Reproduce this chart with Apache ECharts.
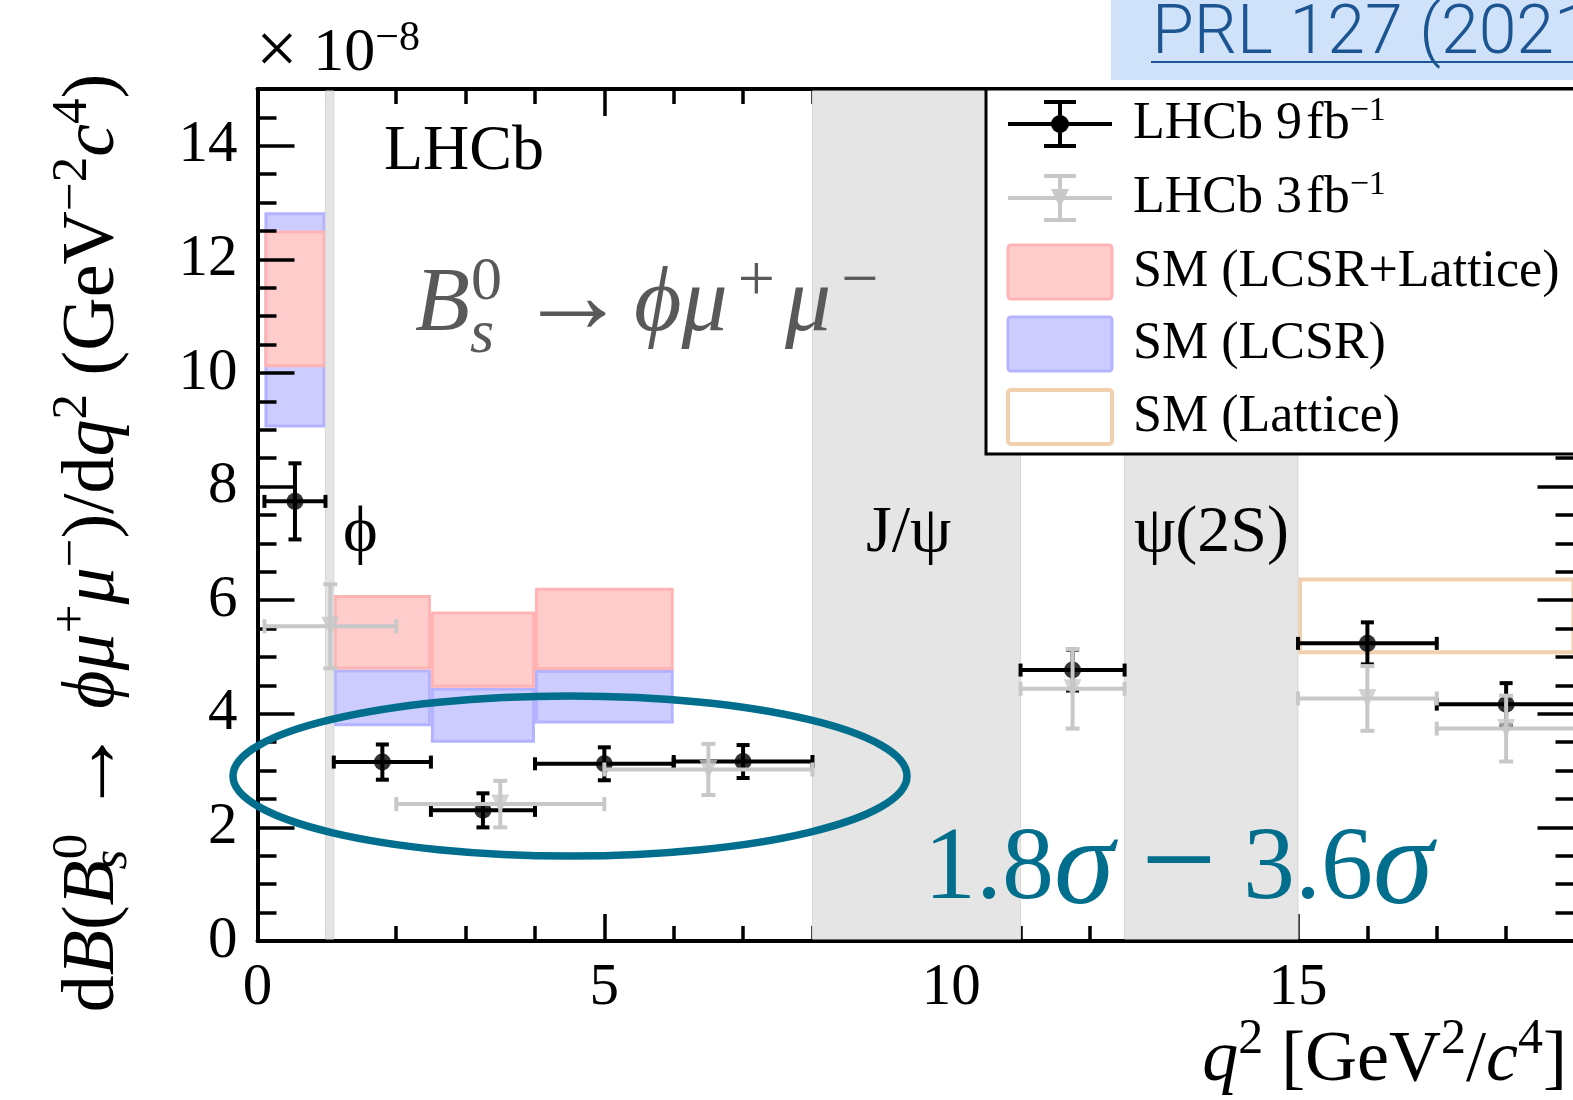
<!DOCTYPE html>
<html>
<head>
<meta charset="utf-8">
<title>Bs0 → φμ+μ− differential branching fraction</title>
<script src="https://cdn.jsdelivr.net/npm/echarts@6.0.0/dist/echarts.min.js"></script>
<style>
  html, body { margin: 0; padding: 0; background: #ffffff; }
  #chart { width: 1573px; height: 1100px; }
</style>
</head>
<body>
<div id="chart"></div>
<script>
// ---- q² bins [GeV²/c⁴] and dB/dq² values [×10⁻⁸ GeV⁻² c⁴] ----
const run2Bins   = [[0.1, 0.98], [1.1, 2.5], [2.5, 4.0], [4.0, 6.0], [6.0, 8.0], [11.0, 12.5], [15.0, 17.0], [17.0, 19.0]];
const run2Values = [7.74, 3.15, 2.30, 3.12, 3.16, 4.77, 5.24, 4.17];
const run2Errors = [0.67, 0.31, 0.30, 0.29, 0.29, 0.36, 0.37, 0.37];

const run1Bins   = [[0.1, 2.0], [2.0, 5.0], [5.0, 8.0], [11.0, 12.5], [15.0, 17.0], [17.0, 19.0]];
const run1Values = [5.54, 2.41, 3.02, 4.44, 4.27, 3.74];
const run1Errors = [0.74, 0.41, 0.45, 0.70, 0.57, 0.58];

// Standard Model predictions (bands: low / high edge)
const lcsrBins = [[0.1, 0.98], [1.1, 2.5], [2.5, 4.0], [4.0, 6.0]];
const lcsrLow  = [9.04, 3.78, 3.49, 3.83];
const lcsrHigh = [12.83, 4.78, 4.46, 4.77];

const combinedBins = [[0.1, 0.98], [1.1, 2.5], [2.5, 4.0], [4.0, 6.0]];
const combinedLow  = [10.10, 4.78, 4.46, 4.77];
const combinedHigh = [12.51, 6.09, 5.80, 6.22];

const latticeBins = [[15.0, 19.0]];
const latticeLow  = [5.05];
const latticeHigh = [6.40];

// Charmonium / phi veto regions
const vetoBands  = [[0.98, 1.1], [8.0, 11.0], [12.5, 15.0]];
const vetoLabels = ['ϕ', 'J/ψ', 'ψ(2S)'];

// Axis ranges and tick steps
const xMax = 19, xMajorStep = 5, xMinorStep = 1;
const yMax = 15, yMajorStep = 2, yMinorStep = 0.5;

// Legend entries
const legendLabels = ['LHCb 9\u200afb{sp|−1}', 'LHCb 3\u200afb{sp|−1}', 'SM (LCSR+Lattice)', 'SM (LCSR)', 'SM (Lattice)'];

const SERIF = 'Liberation Serif';
const TEAL = '#006e8c';
const GREY_PT = '#c8c8c8';

function f(size, italic, extra) {
  return Object.assign({ fontSize: size, fontFamily: SERIF, fontStyle: italic ? 'italic' : 'normal' }, extra || {});
}

// ---- series helpers ----
function errorBarRenderer(color, capHalf, width) {
  return function (params, api) {
    const xc = api.value(0), y = api.value(1), xlo = api.value(2), xhi = api.value(3), e = api.value(4);
    const L = api.coord([xlo, y]), R = api.coord([xhi, y]);
    const T = api.coord([xc, y + e]), B = api.coord([xc, y - e]);
    const st = { stroke: color, lineWidth: width, fill: null };
    const seg = (x1, y1, x2, y2) => ({ type: 'line', shape: { x1, y1, x2, y2 }, style: st });
    return {
      type: 'group',
      children: [
        seg(L[0], L[1], R[0], R[1]),
        seg(L[0], L[1] - capHalf, L[0], L[1] + capHalf),
        seg(R[0], R[1] - capHalf, R[0], R[1] + capHalf),
        seg(T[0], T[1], B[0], B[1]),
        seg(T[0] - capHalf, T[1], T[0] + capHalf, T[1]),
        seg(B[0] - capHalf, B[1], B[0] + capHalf, B[1])
      ]
    };
  };
}

function boxRenderer(fill, stroke, lw) {
  return function (params, api) {
    const p0 = api.coord([api.value(0), api.value(3)]);
    const p1 = api.coord([api.value(1), api.value(2)]);
    const h = lw / 2;
    return {
      type: 'rect',
      shape: { x: p0[0] + h, y: p0[1] + h, width: p1[0] - p0[0] - lw, height: p1[1] - p0[1] - lw },
      style: { fill: fill, stroke: stroke, lineWidth: lw }
    };
  };
}

function vetoRenderer(params, api) {
  const top = api.coord([api.value(0), yMax]);
  const bot = api.coord([api.value(1), 0]);
  return {
    type: 'rect',
    shape: { x: top[0], y: top[1] + 2, width: bot[0] - top[0], height: bot[1] - top[1] - 4 },
    style: { fill: '#e5e5e5', stroke: '#d8d8d8', lineWidth: 1 }
  };
}

const run2Data = run2Bins.map((b, i) => [(b[0] + b[1]) / 2, run2Values[i], b[0], b[1], run2Errors[i]]);
const run1Data = run1Bins.map((b, i) => [(b[0] + b[1]) / 2, run1Values[i], b[0], b[1], run1Errors[i]]);
const lcsrData = lcsrBins.map((b, i) => [b[0], b[1], lcsrLow[i], lcsrHigh[i]]);
const combinedData = combinedBins.map((b, i) => [b[0], b[1], combinedLow[i], combinedHigh[i]]);
const latticeData = latticeBins.map((b, i) => [b[0], b[1], latticeLow[i], latticeHigh[i]]);

// ---- axes: major + minor tick layers on all four sides of the frame ----
function axisBase(min, max, interval, position, showLine) {
  return {
    type: 'value', min: min, max: max, interval: interval, position: position, z: 3,
    axisLine: { show: showLine, onZero: false, lineStyle: { color: '#000', width: 4 } },
    splitLine: { show: false }, minorTick: { show: false }, minorSplitLine: { show: false },
    axisLabel: { show: false }
  };
}
function xAxisLayer(position, step, len, labels) {
  const a = axisBase(0, xMax, step, position, step === xMajorStep);
  a.axisTick = { show: true, inside: true, length: len, lineStyle: { color: '#000', width: 3.5 } };
  if (labels) {
    a.axisLabel = {
      show: true, margin: 18, color: '#000', fontFamily: SERIF, fontSize: 59,
      formatter: v => (Math.abs(v % xMajorStep) < 1e-9 ? String(v) : '')
    };
  }
  return a;
}
function yAxisLayer(position, step, len, labels) {
  const a = axisBase(0, yMax, step, position, step === yMajorStep);
  a.axisTick = { show: true, inside: true, length: len, lineStyle: { color: '#000', width: 3.5 } };
  if (labels) {
    a.axisLabel = {
      show: true, margin: 20, color: '#000', fontFamily: SERIF, fontSize: 59,
      formatter: v => (Math.abs(v % yMajorStep) < 1e-9 ? String(v) : '')
    };
  }
  return a;
}

// ---- text / decoration ----
function text(x, y, str, base, rich, extra) {
  return Object.assign({
    type: 'text', x: x, y: y, z: 60,
    style: Object.assign({ text: str, fill: '#000', align: 'left', verticalAlign: 'middle', rich: rich || {} }, base)
  }, extra || {});
}

const legendX = 986, legendTop = 89, legendBottom = 454;
const rowY = [124, 198, 272, 344, 417];
const iconL = 1008, iconR = 1112, iconC = 1060, textX = 1133;

function legendErrorIcon(cy, color) {
  const st = { stroke: color, lineWidth: 4 };
  return [
    { type: 'line', z: 52, shape: { x1: iconL, y1: cy, x2: iconR, y2: cy }, style: st },
    { type: 'line', z: 52, shape: { x1: iconC, y1: cy - 22, x2: iconC, y2: cy + 22 }, style: st },
    { type: 'line', z: 52, shape: { x1: iconC - 16, y1: cy - 22, x2: iconC + 16, y2: cy - 22 }, style: st },
    { type: 'line', z: 52, shape: { x1: iconC - 16, y1: cy + 22, x2: iconC + 16, y2: cy + 22 }, style: st }
  ];
}
function legendSwatch(cy, fill, stroke, lw) {
  return { type: 'rect', z: 52, shape: { x: iconL, y: cy - 27, width: iconR - iconL, height: 54, r: 3 },
           style: { fill: fill, stroke: stroke, lineWidth: lw } };
}

const legendRich = { sp: f(34, false, { padding: [0, 0, 26, 0] }) };
const decayGrey = '#595959';

const graphics = [
  // legend frame
  { type: 'rect', z: 50, shape: { x: legendX, y: legendTop, width: 700, height: legendBottom - legendTop },
    style: { fill: '#fff', stroke: '#000', lineWidth: 3 } },
  ...legendErrorIcon(rowY[0], '#000'),
  { type: 'circle', z: 53, shape: { cx: iconC, cy: rowY[0], r: 9 }, style: { fill: '#000' } },
  ...legendErrorIcon(rowY[1], GREY_PT),
  { type: 'polygon', z: 53, shape: { points: [[iconC - 9, rowY[1] - 9], [iconC + 9, rowY[1] - 9], [iconC, rowY[1] + 10]] },
    style: { fill: GREY_PT } },
  legendSwatch(rowY[2], '#ffcccc', '#ffb3b3', 3),
  legendSwatch(rowY[3], '#ccccff', '#b3b3ff', 3),
  legendSwatch(rowY[4], '#ffffff', '#f0d0ae', 4),
  ...legendLabels.map((s, i) => text(textX, rowY[i], s, f(52, false), legendRich, { z: 55 })),

  // axis multiplier
  text(256, 54, '{x|×} 10{sp|−8}', f(62, false), {
    x: f(74, false),
    sp: f(42, false, { padding: [0, 0, 30, 0] })
  }),

  // experiment tag
  text(384, 152, 'LHCb', f(64, false)),

  // decay label
  text(415, 306, '{i|B}{sb|s}{sp|0}', f(90, false, { fill: decayGrey }), {
    i: f(90, true),
    sb: f(62, true, { padding: [60, 0, 0, 0], width: 1 }),
    sp: f(62, false, { padding: [0, 0, 46, 0] })
  }),
  text(518, 303, '→', f(110, false, { fill: decayGrey })),
  text(634, 306, '{i|ϕμ}{g| }{sp|+}{g| }{i|μ}{g| }{sp|−}', f(92, false, { fill: decayGrey }), {
    i: f(92, true),
    g: f(20, false, { width: 10 }),
    sp: f(66, false, { padding: [0, 0, 46, 0] })
  }),

  // veto region labels
  text(343, 534, vetoLabels[0], f(66, false)),
  text(866, 534, vetoLabels[1], f(66, false)),
  text(1134, 534, vetoLabels[2], f(66, false)),

  // axis titles
  text(94, 543, 'd{i|B}({i|B}{sb|s}{sp|0} {ar|→} {i|ϕμ}{sp|+}{i|μ}{sp|−})/d{i|q}{sp|2} (GeV{sp|−2}{i|c}{sp|4})',
    f(74, false, { align: 'center' }), {
      i: f(74, true),
      ar: f(88, false),
      sb: f(51, true, { padding: [38, 0, 0, 0], width: 1 }),
      sp: f(51, false, { padding: [0, 0, 42, 0] })
    }, { rotation: Math.PI / 2 }),
  text(1567, 1061, '{i|q}{sp|2} [GeV{sp|2}/{i|c}{sp|4}]', f(72, false, { align: 'right' }), {
    i: f(72, true),
    sp: f(50, false, { padding: [0, 0, 42, 0] })
  }),

  // significance annotation
  { type: 'ellipse', z: 70, shape: { cx: 570, cy: 776, rx: 337, ry: 80 },
    style: { fill: null, stroke: TEAL, lineWidth: 7.5 } },
  text(924, 871, '1.8{i|σ}', f(104, false, { fill: TEAL }), { i: f(122, true) }),
  text(1141, 871, '−', f(134, false, { fill: TEAL, padding: [0, 0, 4, 0] })),
  text(1243, 871, '3.6{i|σ}', f(104, false, { fill: TEAL }), { i: f(122, true) }),

  // reference tag
  { type: 'rect', z: 40, shape: { x: 1111, y: 0, width: 470, height: 80 }, style: { fill: '#cfe2f9' } },
  text(1152, 36, 'PRL 127 (2021)', { fontSize: 68, fontFamily: 'Roboto', fontWeight: 300, fill: '#1c5592' }, null, { z: 41 }),
  { type: 'line', z: 41, shape: { x1: 1151, y1: 62, x2: 1580, y2: 62 }, style: { stroke: '#1c5592', lineWidth: 2 } }
];

const option = {
  animation: false,
  backgroundColor: '#ffffff',
  textStyle: { fontFamily: SERIF },
  grid: { left: 257.5, top: 89, width: 1318, height: 852, containLabel: false, outerBoundsMode: 'none' },
  xAxis: [
    xAxisLayer('bottom', xMajorStep, 27, true),
    xAxisLayer('bottom', xMinorStep, 15, false),
    xAxisLayer('top', xMajorStep, 27, false),
    xAxisLayer('top', xMinorStep, 15, false)
  ],
  yAxis: [
    yAxisLayer('left', yMajorStep, 37, true),
    yAxisLayer('left', yMinorStep, 19, false),
    yAxisLayer('right', yMajorStep, 38, false),
    yAxisLayer('right', yMinorStep, 20, false)
  ],
  series: [
    { name: 'SM (LCSR)', type: 'custom', z: 2, data: lcsrData, encode: { x: [0, 1], y: [2, 3] },
      renderItem: boxRenderer('#ccccff', '#b3b3ff', 3) },
    { name: 'SM (LCSR+Lattice)', type: 'custom', z: 2, data: combinedData, encode: { x: [0, 1], y: [2, 3] },
      renderItem: boxRenderer('#ffcccc', '#ffb3b3', 3) },
    { name: 'SM (Lattice)', type: 'custom', z: 2, data: latticeData, encode: { x: [0, 1], y: [2, 3] },
      renderItem: boxRenderer('rgba(255,255,255,0)', '#f0d0ae', 4) },
    { name: 'veto', type: 'custom', z: 4, data: vetoBands, encode: { x: [0, 1] }, renderItem: vetoRenderer },
    { name: 'LHCb 9 fb-1', type: 'custom', z: 5, data: run2Data, encode: { x: 0, y: 1 },
      renderItem: errorBarRenderer('#000', 6.5, 4) },
    { name: 'LHCb 9 fb-1 points', type: 'scatter', z: 6, symbol: 'circle', symbolSize: 17,
      itemStyle: { color: '#000' }, data: run2Data.map(d => [d[0], d[1]]) },
    { name: 'LHCb 3 fb-1', type: 'custom', z: 7, data: run1Data, encode: { x: 0, y: 1 },
      renderItem: errorBarRenderer(GREY_PT, 7, 4) },
    { name: 'LHCb 3 fb-1 points', type: 'scatter', z: 8, symbol: 'triangle', symbolSize: [18, 19], symbolRotate: 180,
      itemStyle: { color: GREY_PT }, data: run1Data.map(d => [d[0], d[1]]) }
  ],
  graphic: graphics
};

const chart = echarts.init(document.getElementById('chart'));
chart.setOption(option);
</script>
</body>
</html>
